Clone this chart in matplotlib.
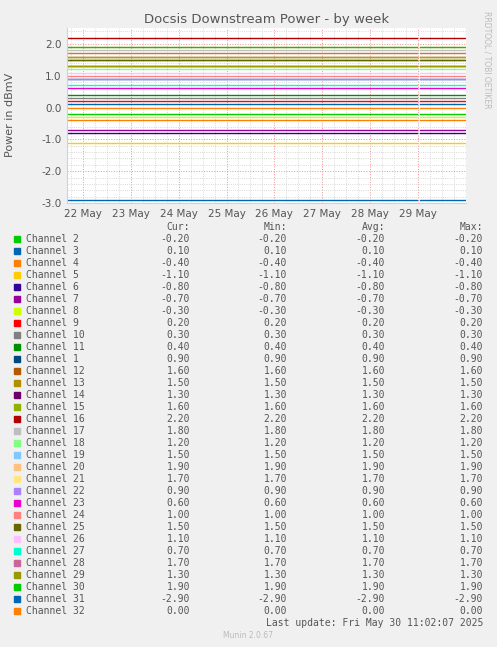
import numpy as np
import matplotlib
matplotlib.use("Agg")
import matplotlib.pyplot as plt
from matplotlib.ticker import MultipleLocator

channels = ["Channel 2", "Channel 3", "Channel 4", "Channel 5", "Channel 6", "Channel 7",
            "Channel 8", "Channel 9", "Channel 10", "Channel 11", "Channel 1", "Channel 12",
            "Channel 13", "Channel 14", "Channel 15", "Channel 16", "Channel 17", "Channel 18",
            "Channel 19", "Channel 20", "Channel 21", "Channel 22", "Channel 23", "Channel 24",
            "Channel 25", "Channel 26", "Channel 27", "Channel 28", "Channel 29", "Channel 30",
            "Channel 31", "Channel 32"]
values = [-0.20, 0.10, -0.40, -1.10, -0.80, -0.70, -0.30, 0.20, 0.30, 0.40, 0.90, 1.60,
          1.50, 1.30, 1.60, 2.20, 1.80, 1.20, 1.50, 1.90, 1.70, 0.90, 0.60, 1.00,
          1.50, 1.10, 0.70, 1.70, 1.30, 1.90, -2.90, 0.00]
colors = ["#00CC00", "#0066B3", "#FF8000", "#FFCC00", "#330099", "#990099", "#CCFF00",
          "#FF0000", "#808080", "#008F00", "#00487D", "#B35A00", "#B38F00", "#6B006B",
          "#8FB300", "#B30000", "#BEBEBE", "#80FF80", "#80C9FF", "#FFC080", "#FFE680",
          "#AA80FF", "#EE00CC", "#FF8080", "#666600", "#FFBFFF", "#00FFCC", "#CC6699",
          "#999900", "#00CC00", "#0066B3", "#FF8000"]
day_labels = ["22 May", "23 May", "24 May", "25 May", "26 May", "27 May", "28 May", "29 May"]

W, H = 497, 647
bg = "#F0F0F0"
fig = plt.figure(figsize=(W / 100, H / 100), dpi=100, facecolor=bg)
ax = fig.add_axes([67 / W, 1 - 203 / H, (466 - 67) / W, (203 - 28) / H])
ax.set_facecolor("white")

# lines, with a small gap just before 29 May
for v, c in zip(values, colors):
    ax.plot([-0.33, 6.97], [v, v], color=c, lw=1)
    ax.plot([7.03, 7.98], [v, v], color=c, lw=1)

ax.set_xlim(-0.33, 8.0)
ax.set_ylim(-3.0, 2.5)
ax.xaxis.set_minor_locator(MultipleLocator(0.25))
ax.yaxis.set_minor_locator(MultipleLocator(0.2))
ax.set_xticks(range(8))
ax.set_xticklabels(day_labels)
ax.set_yticks([-3, -2, -1, 0, 1, 2])
ax.set_yticklabels(["-3.0", "-2.0", "-1.0", "0.0", "1.0", "2.0"])
ax.grid(which="minor", color="#CCCCCC", ls=":", lw=0.6)
ax.grid(which="major", color="#F09090", ls=":", lw=0.7)
ax.set_axisbelow(True)
ax.tick_params(which="both", length=0, labelsize=7.5, colors="#555555", pad=4)
for s in ax.spines.values():
    s.set_visible(False)
ax.spines["left"].set_visible(True)
ax.spines["bottom"].set_visible(True)
ax.spines["left"].set_color("#C8D0F0")
ax.spines["bottom"].set_color("#C8D0F0")
fig.text(10 / W, 1 - 115 / H, "Power in dBmV", rotation=90, ha="center", va="center",
         fontsize=8, color="#555555")
fig.text(0.5 * (67 + 466) / W, 1 - 19 / H, "Docsis Downstream Power - by week",
         ha="center", va="center", fontsize=9.5, color="#555555")
fig.text(487 / W, 1 - 60 / H, "RRDTOOL / TOBI OETIKER", rotation=270,
         ha="center", va="center", fontsize=5.5, color="#BBBBBB")

mono = dict(family="DejaVu Sans Mono", fontsize=7, color="#555555", va="center")
cols_x = [190, 287, 385, 483]
for hx, h in zip(cols_x, ["Cur:", "Min:", "Avg:", "Max:"]):
    fig.text(hx / W, 1 - 227 / H, h, ha="right", **mono)
for i, (name, v, c) in enumerate(zip(channels, values, colors)):
    yy = 239 + i * 12
    fig.patches.append(plt.Rectangle((14 / W, 1 - (yy + 3) / H), 6 / W, 6 / H,
                                     transform=fig.transFigure, color=c, figure=fig))
    fig.text(26 / W, 1 - yy / H, name, ha="left", **mono)
    for cx in cols_x:
        fig.text(cx / W, 1 - yy / H, "%.2f" % v, ha="right", **mono)
fig.text(483 / W, 1 - 623 / H, "Last update: Fri May 30 11:02:07 2025", ha="right", **mono)
fig.text(248 / W, 1 - 636 / H, "Munin 2.0.67", ha="center", va="center",
         fontsize=5.5, color="#BBBBBB")

fig.savefig("out.png", dpi=100, facecolor=bg)
